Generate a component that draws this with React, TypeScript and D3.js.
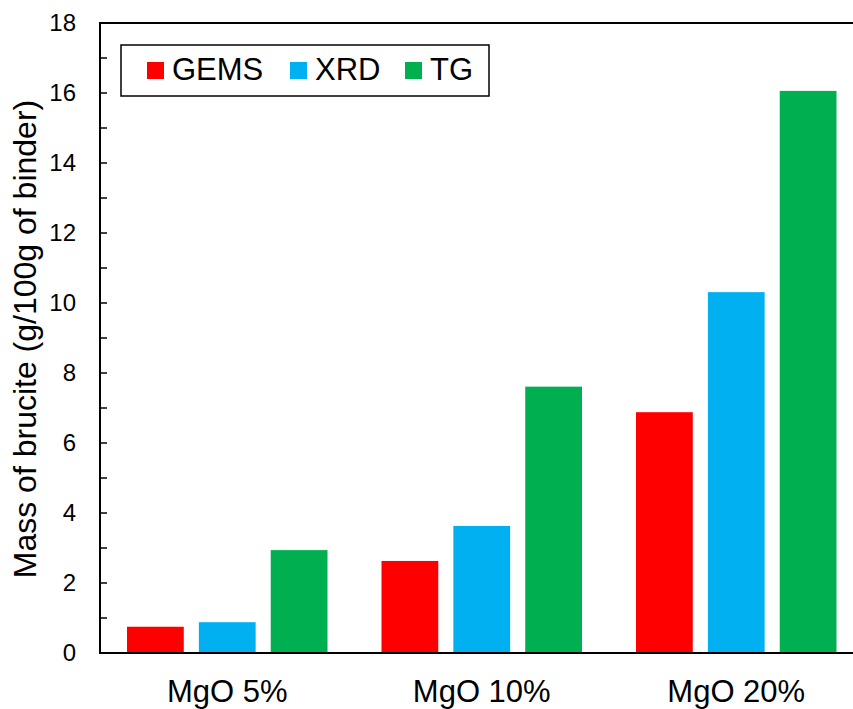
import React, { useEffect, useRef } from "react";
import * as d3 from "d3";

const categories = ["MgO 5%", "MgO 10%", "MgO 20%"];
const seriesNames = ["GEMS", "XRD", "TG"];
const gemsValues = [0.75, 2.63, 6.88];
const xrdValues = [0.88, 3.63, 10.31];
const tgValues = [2.94, 7.61, 16.06];
const seriesColors = ["#FF0000", "#00B0F0", "#00B050"];
const yMajorTicks = [0, 2, 4, 6, 8, 10, 12, 14, 16, 18];
const yMinorTicks = d3.range(0, 19, 1);
const yTitle = "Mass of brucite (g/100g of binder)";

const W = 853;
const H = 709;
const FONT = "'Liberation Sans', Arial, Helvetica, sans-serif";

export default function App() {
  const ref = useRef<SVGSVGElement>(null);

  useEffect(() => {
    const svg = d3.select(ref.current);
    svg.selectAll("*").remove();

    const left = 100, right = 863.5, top = 23, bottom = 653;
    const values = [gemsValues, xrdValues, tgValues];

    const x0 = d3.scaleBand<string>().domain(categories).range([left, right]).padding(0);
    const x1 = d3
      .scaleBand<string>()
      .domain(seriesNames)
      .range([27, x0.bandwidth() - 27])
      .paddingInner(0.21)
      .paddingOuter(0);
    const y = d3.scaleLinear().domain([0, 18]).range([bottom, top]);

    // bars
    const groups = svg
      .append("g")
      .selectAll("g")
      .data(categories)
      .join("g")
      .attr("transform", (c) => `translate(${x0(c)},0)`);
    groups
      .selectAll("rect")
      .data((c) => seriesNames.map((s, si) => ({ s, si, v: values[si][categories.indexOf(c)] })))
      .join("rect")
      .attr("x", (d) => x1(d.s)!)
      .attr("width", x1.bandwidth())
      .attr("y", (d) => y(d.v))
      .attr("height", (d) => y(0) - y(d.v))
      .attr("fill", (d) => seriesColors[d.si]);

    // frame lines
    const axisColor = "#000";
    svg.append("line").attr("x1", left).attr("x2", right).attr("y1", top).attr("y2", top)
      .attr("stroke", axisColor).attr("stroke-width", 2);
    svg.append("line").attr("x1", left).attr("x2", right).attr("y1", bottom).attr("y2", bottom)
      .attr("stroke", axisColor).attr("stroke-width", 2);
    svg.append("line").attr("x1", left).attr("x2", left).attr("y1", top - 1).attr("y2", bottom + 1)
      .attr("stroke", axisColor).attr("stroke-width", 2);

    // y ticks (inward)
    svg.append("g")
      .selectAll("line")
      .data(yMinorTicks)
      .join("line")
      .attr("x1", left)
      .attr("x2", left + 7)
      .attr("y1", (d) => y(d))
      .attr("y2", (d) => y(d))
      .attr("stroke", axisColor)
      .attr("stroke-width", 1.5);

    svg.append("g")
      .selectAll("text")
      .data(yMajorTicks)
      .join("text")
      .attr("x", 76)
      .attr("y", (d) => y(d))
      .attr("dy", "0.35em")
      .attr("text-anchor", "end")
      .attr("font-family", FONT)
      .attr("font-size", 24)
      .attr("fill", "#000")
      .text((d) => String(d));

    // x labels
    svg.append("g")
      .selectAll("text")
      .data(categories)
      .join("text")
      .attr("x", (c) => x0(c)! + x0.bandwidth() / 2)
      .attr("y", 702)
      .attr("text-anchor", "middle")
      .attr("font-family", FONT)
      .attr("font-size", 31)
      .attr("fill", "#000")
      .text((c) => c);

    // y title
    svg.append("text")
      .attr("transform", `translate(36,${(103 + 575) / 2}) rotate(-90)`)
      .attr("text-anchor", "middle")
      .attr("font-family", FONT)
      .attr("font-size", 32)
      .attr("fill", "#000")
      .text(yTitle);

    // legend
    const lg = svg.append("g");
    lg.append("rect")
      .attr("x", 121)
      .attr("y", 45)
      .attr("width", 368)
      .attr("height", 51)
      .attr("fill", "#fff")
      .attr("stroke", "#000")
      .attr("stroke-width", 1.5);
    const legendX = [147, 290, 405];
    seriesNames.forEach((s, i) => {
      lg.append("rect")
        .attr("x", legendX[i])
        .attr("y", 62)
        .attr("width", 17)
        .attr("height", 17)
        .attr("fill", seriesColors[i]);
      lg.append("text")
        .attr("x", legendX[i] + 25)
        .attr("y", 80)
        .attr("font-family", FONT)
        .attr("font-size", 31)
        .attr("fill", "#000")
        .text(s);
    });
  }, []);

  return (
    <svg
      ref={ref}
      width={W}
      height={H}
      style={{ position: "absolute", left: 0, top: 0, background: "#fff" }}
    />
  );
}
